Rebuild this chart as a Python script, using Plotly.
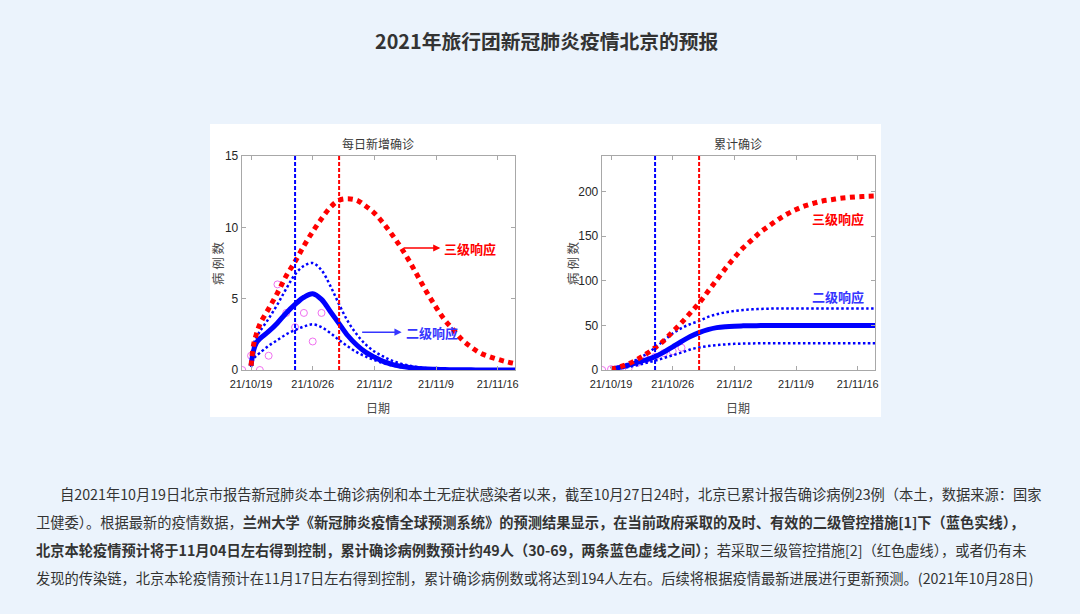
import pandas as pd
import plotly.graph_objects as go

# ---------------- data ----------------
start_date = "2021-10-19"

# daily new cases (day offset from 2021-10-19)
daily_days = [0, 0.3, 0.6, 1, 2, 3, 4, 5, 6, 7, 8, 9, 10, 11, 12, 13, 14, 15, 16, 17, 18, 19, 20,
              21, 22, 23, 24, 25, 26, 27, 28, 29, 30]
daily_red = [0.3, 1.8, 2.5, 3.2, 4.3, 5.4, 6.6, 7.6, 8.7, 9.7, 10.6, 11.4, 11.9, 12.0, 11.9, 11.5,
             11.0, 10.3, 9.5, 8.6, 7.6, 6.5, 5.4, 4.4, 3.5, 2.8, 2.1, 1.6, 1.2, 0.95, 0.75, 0.58, 0.45]
daily_blue = [0.3, 1.4, 1.9, 2.2, 2.7, 3.3, 4.0, 4.6, 5.1, 5.35, 4.95, 4.1, 3.25, 2.4, 1.75, 1.25,
              0.9, 0.6, 0.4, 0.26, 0.17, 0.11, 0.07, 0.05, 0.03, 0.02, 0.015, 0.01, 0.008, 0.006,
              0.005, 0.004, 0.003]
daily_blue_hi = [0.5, 1.8, 2.3, 2.7, 3.6, 4.6, 5.7, 6.7, 7.3, 7.5, 7.0, 5.9, 4.6, 3.4, 2.5, 1.8,
                 1.3, 0.95, 0.65, 0.45, 0.3, 0.2, 0.13, 0.08, 0.05, 0.03, 0.02, 0.01, 0.01, 0.01,
                 0.01, 0.01, 0.01]
daily_blue_lo = [0.2, 0.8, 1.0, 1.2, 1.7, 2.1, 2.5, 2.8, 3.05, 3.2, 3.0, 2.6, 2.1, 1.65, 1.25, 0.95,
                 0.7, 0.48, 0.32, 0.2, 0.13, 0.08, 0.05, 0.03, 0.02, 0.01, 0.01, 0.0, 0.0, 0.0,
                 0.0, 0.0, 0.0]

# cumulative cases
cum_days = [0, 1, 2, 3, 4, 5, 6, 7, 8, 9, 10, 11, 12, 13, 14, 15, 16, 17, 18, 19, 20,
            21, 22, 23, 24, 25, 26, 27, 28, 29, 30]
cum_red = [1, 3.5, 7, 12, 18, 25, 33, 43, 53, 64, 75, 88, 101, 114, 126, 137, 146, 155, 162, 169,
           175, 180, 184, 187, 189.5, 191, 192.5, 193.5, 194.3, 194.8, 195.2]
cum_blue = [1, 3, 5.5, 8.5, 11.5, 15, 20, 26, 32, 37.5, 42, 45.3, 47.5, 48.6, 49.2, 49.5, 49.7,
            49.8, 49.9, 49.9, 49.9, 49.9, 49.9, 49.9, 49.9, 49.9, 49.9, 49.9, 49.9, 49.9, 49.9]
cum_blue_hi = [1.5, 4, 7.5, 12, 18, 25, 33, 41, 47, 51.5, 55, 59.5, 62.5, 64.7, 66.2, 67.3, 68,
               68.5, 68.8, 69, 69, 69, 69, 69, 69, 69, 69, 69, 69, 69, 69]
cum_blue_lo = [0.5, 2, 3.5, 5.5, 8, 10.5, 13.5, 16.5, 19.5, 23, 25.3, 26.8, 27.9, 28.7, 29.3, 29.6,
               29.8, 30, 30, 30, 30, 30, 30, 30, 30, 30, 30, 30, 30, 30, 30]

# observed
obs_days = [-1, 0, 1, 2, 3, 4, 5, 6, 7, 8]
obs_daily = [0, 1, 0, 1, 6, 4, 3, 4, 2, 4]
obs_cum = [0, 1, 1, 2, 8, 12, 15, 19, 21, 25]

control_blue_day = 5    # 10/24
control_red_day = 10    # 10/29

tick_days = [0, 7, 14, 21, 28]
tick_labels = ["21/10/19", "21/10/26", "21/11/2", "21/11/9", "21/11/16"]
left_yticks = [0, 5, 10, 15]
right_yticks = [0, 50, 100, 150, 200]

title = "2021年旅行团新冠肺炎疫情北京的预报"
sub_titles = ["每日新增确诊", "累计确诊"]
para_lines = [
    "自2021年10月19日北京市报告新冠肺炎本土确诊病例和本土无症状感染者以来，截至10月27日24时，北京已累计报告确诊病例23例（本土，数据来源：国家",
    "卫健委）。根据最新的疫情数据，<b>兰州大学《新冠肺炎疫情全球预测系统》的预测结果显示，在当前政府采取的及时、有效的二级管控措施[1]下（蓝色实线），</b>",
    "<b>北京本轮疫情预计将于11月04日左右得到控制，累计确诊病例数预计约49人（30-69，两条蓝色虚线之间）</b>；若采取三级管控措施[2]（红色虚线），或者仍有未",
    "发现的传染链，北京本轮疫情预计在11月17日左右得到控制，累计确诊病例数或将达到194人左右。后续将根据疫情最新进展进行更新预测。(2021年10月28日)",
]

# ---------------- helpers ----------------
W, H = 1080, 614
BG = "#ebf3fc"
base = pd.Timestamp(start_date)


def d(days):
    if isinstance(days, (list, tuple)):
        return [base + pd.to_timedelta(v, unit="D") for v in days]
    return base + pd.to_timedelta(days, unit="D")


def px(x):
    return x / W


def py(y):
    return 1 - y / H


CJK = "Noto Sans CJK SC"
XTICKFONT = dict(family="Liberation Sans, Arial", size=11, color="#262626")
YTICKFONT = dict(family="Liberation Sans, Arial", size=12, color="#262626")
RED = "#ff0000"
BLUE = "#0000ff"
TXTBLUE = "#3535ff"
FRAME = "#a8a8a8"

fig = go.Figure()


def add_panel(xa, ya, days, red, blue, hi, lo, odays, oval):
    fig.add_trace(go.Scatter(x=d(odays), y=oval, mode="markers", xaxis=xa, yaxis=ya,
                             marker=dict(symbol="circle-open", size=7, color="#f070f0",
                                         line=dict(width=1)), showlegend=False))
    fig.add_trace(go.Scatter(x=d(days), y=hi, mode="lines", xaxis=xa, yaxis=ya, showlegend=False,
                             line=dict(color=BLUE, width=2.5, dash="2.5px,2.5px", shape="spline")))
    fig.add_trace(go.Scatter(x=d(days), y=lo, mode="lines", xaxis=xa, yaxis=ya, showlegend=False,
                             line=dict(color=BLUE, width=2.5, dash="2.5px,2.5px", shape="spline")))
    fig.add_trace(go.Scatter(x=d(days), y=blue, mode="lines", xaxis=xa, yaxis=ya, showlegend=False,
                             line=dict(color=BLUE, width=5, shape="spline")))
    fig.add_trace(go.Scatter(x=d(days), y=red, mode="lines", xaxis=xa, yaxis=ya, showlegend=False,
                             line=dict(color=RED, width=5, dash="5px,4.5px", shape="spline")))


add_panel("x", "y", daily_days, daily_red, daily_blue, daily_blue_hi, daily_blue_lo,
          obs_days, obs_daily)
add_panel("x2", "y2", cum_days, cum_red, cum_blue, cum_blue_hi, cum_blue_lo,
          obs_days, obs_cum)

# geometry of the two axes boxes (pixels)
L_X0, L_X1 = 241.7, 515.0
R_X0, R_X1 = 601.7, 875.0
Y_TOP, Y_BOT = 156.0, 370.0

xaxis_common = dict(type="date", range=[d(-1.06), d(29.97)], tickvals=d(tick_days),
                    ticktext=tick_labels, ticks="inside", ticklen=4, tickcolor=FRAME,
                    showline=True, linecolor=FRAME, linewidth=1, mirror="allticks",
                    showgrid=False, zeroline=False, tickfont=XTICKFONT, ticklabelstandoff=4)
yaxis_common = dict(ticks="inside", ticklen=4, tickcolor=FRAME, showline=True, linecolor=FRAME,
                    linewidth=1, mirror="allticks", showgrid=False, zeroline=False,
                    tickfont=YTICKFONT)

fig.update_layout(
    width=W, height=H, autosize=False,
    margin=dict(l=0, r=0, t=0, b=0, autoexpand=False),
    paper_bgcolor=BG, plot_bgcolor="#ffffff",
    xaxis=dict(xaxis_common, domain=[px(L_X0), px(L_X1)], anchor="y"),
    yaxis=dict(yaxis_common, domain=[py(Y_BOT), py(Y_TOP)], range=[0, 15],
               tickvals=left_yticks, anchor="x"),
    xaxis2=dict(xaxis_common, domain=[px(R_X0), px(R_X1)], anchor="y2"),
    yaxis2=dict(yaxis_common, domain=[py(Y_BOT), py(Y_TOP)], range=[0, 240],
                tickvals=right_yticks, anchor="x2"),
    showlegend=False,
)

shapes = [
    dict(type="rect", xref="paper", yref="paper", x0=px(210), x1=px(881), y0=py(417), y1=py(124),
         fillcolor="#ffffff", line=dict(width=0), layer="below"),
]
for xr, yr in (("x", "y domain"), ("x2", "y2 domain")):
    shapes.append(dict(type="line", xref=xr, yref=yr, x0=d(control_blue_day), x1=d(control_blue_day),
                       y0=0, y1=1, line=dict(color=BLUE, width=2, dash="4px,2px")))
    shapes.append(dict(type="line", xref=xr, yref=yr, x0=d(control_red_day), x1=d(control_red_day),
                       y0=0, y1=1, line=dict(color=RED, width=2, dash="4px,2px")))
fig.update_layout(shapes=shapes)

ann = []
# page title
ann.append(dict(xref="paper", yref="paper", x=px(546.5), y=py(40.5), text="<b>" + title + "</b>",
                showarrow=False, font=dict(family=CJK, size=19.8, color="#333333"),
                xanchor="center", yanchor="middle"))
# subplot titles
for xc, t in (((L_X0 + L_X1) / 2, sub_titles[0]), ((R_X0 + R_X1) / 2, sub_titles[1])):
    ann.append(dict(xref="paper", yref="paper", x=px(xc), y=py(143.5), text=t, showarrow=False,
                    font=dict(family=CJK, size=12, color="#3a3a3a"), xanchor="center",
                    yanchor="middle"))
    ann.append(dict(xref="paper", yref="paper", x=px(xc), y=py(407), text="日期", showarrow=False,
                    font=dict(family=CJK, size=12, color="#4a4a4a"), xanchor="center",
                    yanchor="middle"))
for xc in (217, 572):
    ann.append(dict(xref="paper", yref="paper", x=px(xc), y=py(263), text="病 例 数",
                    textangle=-90, showarrow=False,
                    font=dict(family=CJK, size=12.5, color="#4a4a4a"), xanchor="center",
                    yanchor="middle"))

lab_font = lambda c: dict(family=CJK, size=13, color=c)
# left panel labels + arrows
ann.append(dict(xref="x", yref="y", x=d(24.9), y=8.55, text="<b>三级响应</b>", showarrow=False,
                font=lab_font(RED), xanchor="center", yanchor="middle"))
ann.append(dict(xref="x", yref="y", x=d(21.5), y=8.55, text="", showarrow=True, ax=-38, ay=0,
                arrowhead=2, arrowsize=0.9, arrowwidth=1.6, arrowcolor=RED))
ann.append(dict(xref="x", yref="y", x=d(20.5), y=2.65, text="<b>二级响应</b>", showarrow=False,
                font=lab_font(TXTBLUE), xanchor="center", yanchor="middle"))
ann.append(dict(xref="x", yref="y", x=d(17.1), y=2.65, text="", showarrow=True, ax=-41, ay=0,
                arrowhead=2, arrowsize=0.9, arrowwidth=1.6, arrowcolor=TXTBLUE))
# right panel labels
ann.append(dict(xref="x2", yref="y2", x=d(25.8), y=170, text="<b>三级响应</b>", showarrow=False,
                font=lab_font(RED), xanchor="center", yanchor="middle"))
ann.append(dict(xref="x2", yref="y2", x=d(25.8), y=82, text="<b>二级响应</b>", showarrow=False,
                font=lab_font(TXTBLUE), xanchor="center", yanchor="middle"))

# paragraph
line_y = [493, 521, 549, 577]
line_x = [58, 34, 34, 34]
for t, yy, xx in zip(para_lines, line_y, line_x):
    ann.append(dict(xref="paper", yref="paper", x=px(xx), y=py(yy), text=t, showarrow=False,
                    font=dict(family=CJK, size=14.25, color="#333333"), xanchor="left",
                    yanchor="middle", align="left"))

fig.update_layout(annotations=ann)
fig.write_html(
    "out.html",
    config={"displayModeBar": False},
    post_script=(
        "document.body.style.margin='0';document.body.style.padding='0';"
        "document.body.style.overflow='hidden';"
        "document.body.style.background='" + BG + "';"
    ),
)
